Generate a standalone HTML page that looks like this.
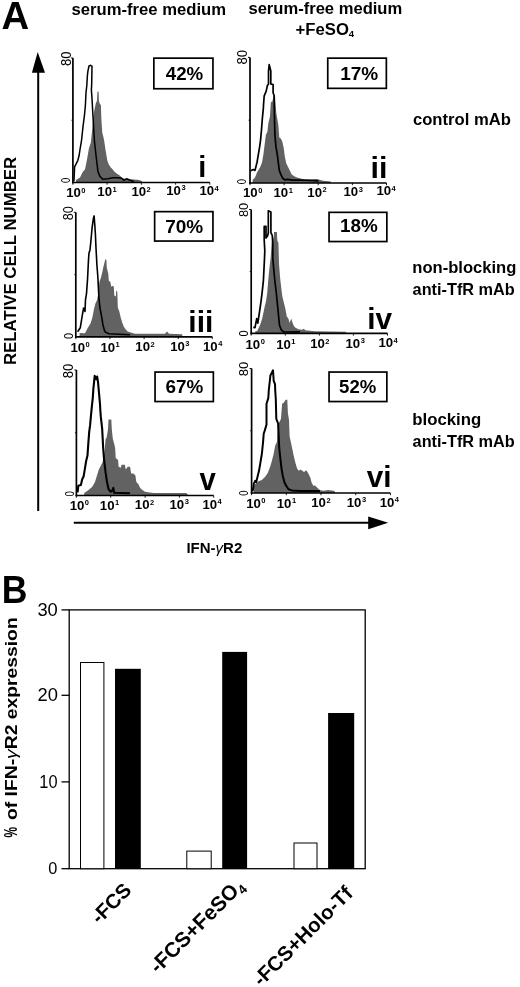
<!DOCTYPE html>
<html><head><meta charset="utf-8"><style>
html,body{margin:0;padding:0;background:#fff;}
svg{display:block;will-change:transform;filter:blur(0.4px);}
</style></head><body>
<svg width="520" height="987" viewBox="0 0 520 987">
<rect width="520" height="987" fill="#fff"/>
<g transform="translate(1.496,28.600) scale(1.0642,1.0521)"><text font-size="36" font-weight="bold" font-family='"Liberation Sans", sans-serif'>A</text></g>
<g transform="translate(71.519,14.653) scale(1.0419,0.9872)"><text font-size="16" font-weight="bold" font-family='"Liberation Sans", sans-serif'>serum-free medium</text></g>
<g transform="translate(248.423,14.351) scale(1.0365,0.9957)"><text font-size="16" font-weight="bold" font-family='"Liberation Sans", sans-serif'>serum-free medium</text></g>
<g transform="translate(295.516,34.757) scale(1.0452,0.9739)"><text font-size="16" font-weight="bold" font-family='"Liberation Sans", sans-serif'>+FeSO</text></g>
<g transform="translate(348.762,36.800) scale(0.9524,0.9714)"><text font-size="10" font-weight="bold" font-family='"Liberation Sans", sans-serif'>4</text></g>
<g transform="translate(412.920,125.249) scale(1.0404,1.0043)"><text font-size="16" font-weight="bold" font-family='"Liberation Sans", sans-serif'>control mAb</text></g>
<g transform="translate(412.263,272.929) scale(1.0372,1.0373)"><text font-size="16" font-weight="bold" font-family='"Liberation Sans", sans-serif'>non-blocking</text></g>
<g transform="translate(412.591,294.543) scale(1.0186,1.0298)"><text font-size="16" font-weight="bold" font-family='"Liberation Sans", sans-serif'>anti-TfR mAb</text></g>
<g transform="translate(412.251,425.263) scale(1.0494,1.0576)"><text font-size="16" font-weight="bold" font-family='"Liberation Sans", sans-serif'>blocking</text></g>
<g transform="translate(412.591,446.843) scale(1.0186,1.0298)"><text font-size="16" font-weight="bold" font-family='"Liberation Sans", sans-serif'>anti-TfR mAb</text></g>
<g transform="translate(186.398,553.100) scale(1.0018,1.0095)"><text font-size="15" font-weight="bold" font-family='"Liberation Sans", sans-serif'>IFN-<tspan font-style="italic" font-weight="normal">γ</tspan>R2</text></g>
<g transform="translate(15.645,365.024) rotate(-90) scale(1.0238,1.0213)"><text font-size="16.4" font-weight="bold" font-family='"Liberation Sans", sans-serif'>RELATIVE CELL NUMBER</text></g>
<line x1="38.2" y1="70" x2="38.2" y2="511" stroke="#000" stroke-width="2"/>
<polygon points="37.7,52 31.9,72.8 45,72.8" fill="#000"/>
<line x1="73.8" y1="522.8" x2="370" y2="522.8" stroke="#000" stroke-width="2"/>
<polygon points="368.2,516.6 388.2,522.8 368.2,529.2" fill="#000"/>
<polygon points="76.0,182.5 76.0,180.0 80.0,177.4 83.0,171.4 85.0,169.4 87.0,159.5 88.9,148.6 90.9,142.6 92.4,126.7 93.4,116.8 94.4,109.8 95.9,102.9 96.9,100.9 97.4,92.0 98.1,91.3 98.6,92.0 98.9,100.9 99.9,103.9 100.9,104.9 101.4,119.8 102.3,132.7 103.3,136.6 104.3,141.6 105.3,148.6 106.3,154.5 107.3,160.5 108.8,164.4 110.8,167.4 112.8,169.4 114.3,171.4 116.7,173.4 119.7,175.4 122.7,178.3 125.7,178.8 130.0,179.3 138.0,179.7 142.0,181.0 142.0,182.5" fill="#626262"/>
<polyline points="74.0,181.3 74.6,166.8 77.9,160.3 79.2,155.0 80.0,149.5 81.5,140.6 83.0,126.7 84.5,114.8 85.4,105.3 86.0,92.6 86.8,85.7 87.4,75.3 88.0,70.7 89.0,66.0 90.3,65.3 92.0,66.1 91.7,83.4 91.4,90.3 92.0,98.4 92.9,114.8 94.4,140.6 95.9,154.5 97.9,171.4 99.9,176.4 102.8,179.3 107.8,178.8 112.8,177.8 117.7,177.8 121.7,178.3 123.7,180.3 126.7,178.8 130.0,180.3 134.0,181.5" fill="none" stroke="#000" stroke-width="1.5" stroke-linejoin="round"/>
<line x1="72.9" y1="58.0" x2="72.9" y2="183.3" stroke="#000" stroke-width="1.7"/>
<line x1="72.10000000000001" y1="182.5" x2="209.8" y2="182.5" stroke="#000" stroke-width="1.7"/>
<line x1="70.9" y1="58.0" x2="72.9" y2="58.0" stroke="#000" stroke-width="1"/>
<line x1="71.4" y1="120.25" x2="72.9" y2="120.25" stroke="#000" stroke-width="0.8"/>
<line x1="72.9" y1="182.5" x2="72.9" y2="184.7" stroke="#000" stroke-width="0.9"/>
<line x1="107.1" y1="182.5" x2="107.1" y2="184.7" stroke="#000" stroke-width="0.9"/>
<line x1="141.4" y1="182.5" x2="141.4" y2="184.7" stroke="#000" stroke-width="0.9"/>
<line x1="175.6" y1="182.5" x2="175.6" y2="184.7" stroke="#000" stroke-width="0.9"/>
<line x1="209.8" y1="182.5" x2="209.8" y2="184.7" stroke="#000" stroke-width="0.9"/>
<g transform="translate(70.600,65.987) rotate(-90) scale(0.9745,1.0378)"><text font-size="13.4" font-family='"Liberation Sans", sans-serif'>80</text></g>
<g transform="translate(69.500,182.954) rotate(-90) scale(0.7077,0.9297)"><text font-size="13.4" font-family='"Liberation Sans", sans-serif'>0</text></g>
<rect x="153.85" y="58.15" width="59.10000000000001" height="30.599999999999998" fill="none" stroke="#000" stroke-width="1.7"/>
<g transform="translate(165.729,80.300) scale(1.0824,1.0833)"><text font-size="17.3" font-weight="bold" font-family='"Liberation Sans", sans-serif'>42%</text></g>
<g transform="translate(198.171,176.700) scale(0.9647,0.9839)"><text font-size="30" font-weight="bold" font-family='"Liberation Sans", sans-serif'>i</text></g>
<text x="66.14" y="197.25" font-size="13.2" font-weight="bold" font-family='"Liberation Sans", sans-serif'>10</text><text x="81.29" y="192.75" font-size="7.5" font-weight="bold" font-family='"Liberation Sans", sans-serif'>0</text>
<text x="97.34" y="196.35" font-size="13.2" font-weight="bold" font-family='"Liberation Sans", sans-serif'>10</text><text x="112.49" y="191.85" font-size="7.5" font-weight="bold" font-family='"Liberation Sans", sans-serif'>1</text>
<text x="131.44" y="196.05" font-size="13.2" font-weight="bold" font-family='"Liberation Sans", sans-serif'>10</text><text x="146.59" y="191.55" font-size="7.5" font-weight="bold" font-family='"Liberation Sans", sans-serif'>2</text>
<text x="166.24" y="194.95" font-size="13.2" font-weight="bold" font-family='"Liberation Sans", sans-serif'>10</text><text x="181.39" y="190.45" font-size="7.5" font-weight="bold" font-family='"Liberation Sans", sans-serif'>3</text>
<text x="199.44" y="195.25" font-size="13.2" font-weight="bold" font-family='"Liberation Sans", sans-serif'>10</text><text x="214.59" y="190.75" font-size="7.5" font-weight="bold" font-family='"Liberation Sans", sans-serif'>4</text>

<polygon points="252.6,183.0 252.6,180.0 255.0,177.4 257.0,172.4 260.0,167.4 262.0,162.5 263.4,154.5 264.4,146.6 265.9,134.7 267.4,131.7 268.4,122.7 269.9,116.8 270.9,101.9 272.4,101.4 273.4,95.9 274.9,95.9 275.4,102.9 276.4,113.8 277.3,118.8 278.3,124.7 279.3,137.6 280.8,138.6 282.3,141.6 283.8,148.6 284.8,156.5 286.3,163.5 287.8,166.4 289.8,170.4 291.7,174.4 294.7,176.4 297.7,177.8 301.7,178.8 305.0,179.3 310.8,179.2 316.9,178.9 323.1,180.8 330.8,181.5 330.8,183.0" fill="#626262"/>
<polyline points="250.7,170.8 253.3,169.5 255.0,170.4 257.0,162.5 259.5,147.6 260.5,140.6 261.5,129.7 262.4,117.8 263.4,107.8 263.5,105.0 264.2,95.8 266.2,91.2 267.3,85.8 268.5,84.0 268.5,71.0 269.2,64.6 270.8,71.0 270.8,84.0 273.1,84.6 273.1,92.7 274.2,95.8 274.4,114.8 274.9,134.7 275.9,146.6 277.3,154.5 278.3,162.5 279.3,170.4 280.8,174.4 282.8,178.3 284.8,179.8 287.8,179.3 292.0,180.2 300.0,180.0 310.0,180.5 318.5,180.8" fill="none" stroke="#000" stroke-width="1.7" stroke-linejoin="round"/>
<line x1="250.0" y1="57.4" x2="250.0" y2="183.8" stroke="#000" stroke-width="1.7"/>
<line x1="249.2" y1="183.0" x2="386.5" y2="183.0" stroke="#000" stroke-width="1.7"/>
<line x1="248.0" y1="57.4" x2="250.0" y2="57.4" stroke="#000" stroke-width="1"/>
<line x1="248.5" y1="120.2" x2="250.0" y2="120.2" stroke="#000" stroke-width="0.8"/>
<line x1="250.0" y1="183.0" x2="250.0" y2="185.2" stroke="#000" stroke-width="0.9"/>
<line x1="284.1" y1="183.0" x2="284.1" y2="185.2" stroke="#000" stroke-width="0.9"/>
<line x1="318.2" y1="183.0" x2="318.2" y2="185.2" stroke="#000" stroke-width="0.9"/>
<line x1="352.4" y1="183.0" x2="352.4" y2="185.2" stroke="#000" stroke-width="0.9"/>
<line x1="386.5" y1="183.0" x2="386.5" y2="185.2" stroke="#000" stroke-width="0.9"/>
<g transform="translate(246.800,64.491) rotate(-90) scale(0.9818,1.0378)"><text font-size="13.4" font-family='"Liberation Sans", sans-serif'>80</text></g>
<g transform="translate(245.800,184.154) rotate(-90) scale(0.7077,0.9514)"><text font-size="13.4" font-family='"Liberation Sans", sans-serif'>0</text></g>
<rect x="327.75" y="58.15" width="58.60000000000001" height="30.200000000000006" fill="none" stroke="#000" stroke-width="1.7"/>
<g transform="translate(340.151,80.300) scale(1.0992,1.1064)"><text font-size="17.3" font-weight="bold" font-family='"Liberation Sans", sans-serif'>17%</text></g>
<g transform="translate(370.468,178.000) scale(1.0160,0.9747)"><text font-size="30" font-weight="bold" font-family='"Liberation Sans", sans-serif'>ii</text></g>
<text x="243.04" y="197.25" font-size="13.2" font-weight="bold" font-family='"Liberation Sans", sans-serif'>10</text><text x="258.19" y="192.75" font-size="7.5" font-weight="bold" font-family='"Liberation Sans", sans-serif'>0</text>
<text x="273.54" y="197.25" font-size="13.2" font-weight="bold" font-family='"Liberation Sans", sans-serif'>10</text><text x="288.69" y="192.75" font-size="7.5" font-weight="bold" font-family='"Liberation Sans", sans-serif'>1</text>
<text x="307.34" y="196.65" font-size="13.2" font-weight="bold" font-family='"Liberation Sans", sans-serif'>10</text><text x="322.49" y="192.15" font-size="7.5" font-weight="bold" font-family='"Liberation Sans", sans-serif'>2</text>
<text x="343.54" y="196.05" font-size="13.2" font-weight="bold" font-family='"Liberation Sans", sans-serif'>10</text><text x="358.69" y="191.55" font-size="7.5" font-weight="bold" font-family='"Liberation Sans", sans-serif'>3</text>
<text x="376.44" y="195.45" font-size="13.2" font-weight="bold" font-family='"Liberation Sans", sans-serif'>10</text><text x="391.59" y="190.95" font-size="7.5" font-weight="bold" font-family='"Liberation Sans", sans-serif'>4</text>

<polygon points="79.6,336.9 79.6,333.0 85.0,333.3 88.0,327.4 90.5,323.4 92.4,317.5 93.9,309.5 95.4,303.6 96.9,300.6 98.4,293.6 99.4,281.7 100.9,277.7 102.4,271.8 103.4,266.8 104.9,260.9 105.4,258.9 106.4,259.9 106.8,267.8 108.3,273.8 108.8,280.7 110.3,281.7 111.3,286.7 112.8,285.7 113.8,286.7 114.3,295.6 115.8,296.6 116.3,290.6 117.3,291.6 117.8,307.5 119.3,311.5 120.7,317.5 122.2,322.4 123.7,326.4 125.7,329.4 127.7,331.4 130.7,332.4 135.0,333.8 140.0,333.7 165.0,333.8 167.0,331.5 169.0,333.8 182.3,334.2 182.3,336.9" fill="#626262"/>
<polyline points="77.6,331.7 80.3,327.7 82.2,315.9 83.6,308.0 85.0,311.5 85.5,299.6 86.5,293.6 87.5,279.7 88.5,259.9 89.0,252.9 90.0,249.9 91.0,240.0 92.1,227.7 93.4,218.5 94.1,215.9 94.7,223.8 95.4,234.3 95.9,246.0 96.9,264.8 97.9,277.7 98.9,297.6 99.9,307.5 101.4,315.5 102.9,324.4 104.4,330.4 105.9,332.4 108.8,333.8 130.0,334.8" fill="none" stroke="#000" stroke-width="1.6" stroke-linejoin="round"/>
<line x1="75.8" y1="212.3" x2="75.8" y2="337.7" stroke="#000" stroke-width="1.7"/>
<line x1="75.0" y1="336.9" x2="212.3" y2="336.9" stroke="#000" stroke-width="1.7"/>
<line x1="73.8" y1="212.3" x2="75.8" y2="212.3" stroke="#000" stroke-width="1"/>
<line x1="74.3" y1="274.6" x2="75.8" y2="274.6" stroke="#000" stroke-width="0.8"/>
<line x1="75.8" y1="336.9" x2="75.8" y2="339.09999999999997" stroke="#000" stroke-width="0.9"/>
<line x1="109.9" y1="336.9" x2="109.9" y2="339.09999999999997" stroke="#000" stroke-width="0.9"/>
<line x1="144.1" y1="336.9" x2="144.1" y2="339.09999999999997" stroke="#000" stroke-width="0.9"/>
<line x1="178.2" y1="336.9" x2="178.2" y2="339.09999999999997" stroke="#000" stroke-width="0.9"/>
<line x1="212.3" y1="336.9" x2="212.3" y2="339.09999999999997" stroke="#000" stroke-width="0.9"/>
<g transform="translate(73.400,220.173) rotate(-90) scale(0.9455,1.0378)"><text font-size="13.4" font-family='"Liberation Sans", sans-serif'>80</text></g>
<g transform="translate(73.000,338.908) rotate(-90) scale(0.8154,0.9622)"><text font-size="13.4" font-family='"Liberation Sans", sans-serif'>0</text></g>
<rect x="154.65" y="211.65" width="58.3" height="29.399999999999995" fill="none" stroke="#000" stroke-width="1.7"/>
<g transform="translate(165.176,232.941) scale(1.0985,1.0367)"><text font-size="17.3" font-weight="bold" font-family='"Liberation Sans", sans-serif'>70%</text></g>
<g transform="translate(188.300,331.800) scale(1.0000,0.9977)"><text font-size="30" font-weight="bold" font-family='"Liberation Sans", sans-serif'>iii</text></g>
<text x="70.44" y="351.85" font-size="13.2" font-weight="bold" font-family='"Liberation Sans", sans-serif'>10</text><text x="85.59" y="347.35" font-size="7.5" font-weight="bold" font-family='"Liberation Sans", sans-serif'>0</text>
<text x="100.44" y="351.85" font-size="13.2" font-weight="bold" font-family='"Liberation Sans", sans-serif'>10</text><text x="115.59" y="347.35" font-size="7.5" font-weight="bold" font-family='"Liberation Sans", sans-serif'>1</text>
<text x="135.34" y="351.25" font-size="13.2" font-weight="bold" font-family='"Liberation Sans", sans-serif'>10</text><text x="150.49" y="346.75" font-size="7.5" font-weight="bold" font-family='"Liberation Sans", sans-serif'>2</text>
<text x="170.14" y="350.65" font-size="13.2" font-weight="bold" font-family='"Liberation Sans", sans-serif'>10</text><text x="185.29" y="346.15" font-size="7.5" font-weight="bold" font-family='"Liberation Sans", sans-serif'>3</text>
<text x="203.04" y="350.65" font-size="13.2" font-weight="bold" font-family='"Liberation Sans", sans-serif'>10</text><text x="218.19" y="346.15" font-size="7.5" font-weight="bold" font-family='"Liberation Sans", sans-serif'>4</text>

<polygon points="255.3,333.4 255.3,331.3 257.2,330.9 260.0,325.3 262.2,318.6 264.5,307.5 266.1,300.8 267.3,291.9 268.4,278.5 269.5,267.4 270.6,258.4 271.7,242.8 272.8,240.6 274.0,236.1 274.0,232.1 276.9,232.1 277.3,240.6 278.4,242.8 279.0,264.0 280.1,277.4 281.2,287.4 282.3,296.3 283.4,300.8 285.1,307.5 286.8,316.4 288.4,318.6 289.6,323.1 291.2,318.6 292.3,322.0 293.5,325.3 295.1,327.6 298.5,329.2 301.8,329.8 304.1,328.7 305.0,330.3 315.0,331.3 330.0,331.5 346.0,331.8 346.0,333.4" fill="#626262"/>
<polyline points="253.3,327.4 255.0,327.6 256.7,318.6 257.8,323.1 259.5,312.0 261.1,300.8 262.2,291.9 263.4,280.7 264.5,258.4 264.8,250.6 264.2,240.0 264.2,226.4 266.0,226.4 266.0,237.9 267.5,236.0 268.3,233.0 268.3,210.8 270.9,212.0 270.9,232.7 272.3,235.6 272.8,245.0 272.8,258.4 274.0,271.8 275.1,283.0 276.2,291.9 277.3,303.0 278.4,314.2 279.5,325.3 281.2,329.8 284.0,332.0 300.0,331.8" fill="none" stroke="#000" stroke-width="1.7" stroke-linejoin="round"/>
<line x1="251.2" y1="209.5" x2="251.2" y2="334.2" stroke="#000" stroke-width="1.7"/>
<line x1="250.39999999999998" y1="333.4" x2="387.5" y2="333.4" stroke="#000" stroke-width="1.7"/>
<line x1="249.2" y1="209.5" x2="251.2" y2="209.5" stroke="#000" stroke-width="1"/>
<line x1="249.7" y1="271.45" x2="251.2" y2="271.45" stroke="#000" stroke-width="0.8"/>
<line x1="251.2" y1="333.4" x2="251.2" y2="335.59999999999997" stroke="#000" stroke-width="0.9"/>
<line x1="285.3" y1="333.4" x2="285.3" y2="335.59999999999997" stroke="#000" stroke-width="0.9"/>
<line x1="319.4" y1="333.4" x2="319.4" y2="335.59999999999997" stroke="#000" stroke-width="0.9"/>
<line x1="353.4" y1="333.4" x2="353.4" y2="335.59999999999997" stroke="#000" stroke-width="0.9"/>
<line x1="387.5" y1="333.4" x2="387.5" y2="335.59999999999997" stroke="#000" stroke-width="0.9"/>
<g transform="translate(248.100,217.080) rotate(-90) scale(0.9600,1.0162)"><text font-size="13.4" font-family='"Liberation Sans", sans-serif'>80</text></g>
<g transform="translate(247.700,336.508) rotate(-90) scale(0.8154,1.0054)"><text font-size="13.4" font-family='"Liberation Sans", sans-serif'>0</text></g>
<rect x="329.05" y="212.35" width="57.8" height="29.200000000000006" fill="none" stroke="#000" stroke-width="1.7"/>
<g transform="translate(339.908,232.486) scale(1.0917,1.0571)"><text font-size="17.3" font-weight="bold" font-family='"Liberation Sans", sans-serif'>18%</text></g>
<g transform="translate(367.213,329.000) scale(0.9934,0.9839)"><text font-size="30" font-weight="bold" font-family='"Liberation Sans", sans-serif'>iv</text></g>
<text x="245.54" y="348.85" font-size="13.2" font-weight="bold" font-family='"Liberation Sans", sans-serif'>10</text><text x="260.69" y="344.35" font-size="7.5" font-weight="bold" font-family='"Liberation Sans", sans-serif'>0</text>
<text x="276.14" y="348.85" font-size="13.2" font-weight="bold" font-family='"Liberation Sans", sans-serif'>10</text><text x="291.29" y="344.35" font-size="7.5" font-weight="bold" font-family='"Liberation Sans", sans-serif'>1</text>
<text x="310.14" y="348.25" font-size="13.2" font-weight="bold" font-family='"Liberation Sans", sans-serif'>10</text><text x="325.29" y="343.75" font-size="7.5" font-weight="bold" font-family='"Liberation Sans", sans-serif'>2</text>
<text x="345.54" y="347.65" font-size="13.2" font-weight="bold" font-family='"Liberation Sans", sans-serif'>10</text><text x="360.69" y="343.15" font-size="7.5" font-weight="bold" font-family='"Liberation Sans", sans-serif'>3</text>
<text x="378.44" y="347.05" font-size="13.2" font-weight="bold" font-family='"Liberation Sans", sans-serif'>10</text><text x="393.59" y="342.55" font-size="7.5" font-weight="bold" font-family='"Liberation Sans", sans-serif'>4</text>

<polygon points="84.2,495.5 84.2,493.0 88.2,490.3 92.1,487.1 95.0,482.1 98.8,469.6 100.8,465.8 102.7,461.9 104.5,452.0 105.6,438.8 106.5,437.9 108.0,429.2 108.5,419.6 111.3,419.6 111.8,429.2 112.8,438.8 114.2,443.7 115.2,448.5 115.7,458.1 118.1,460.0 118.6,466.7 121.0,467.7 121.4,464.8 124.8,464.8 125.8,469.6 127.7,466.7 130.1,466.7 131.1,473.5 133.5,473.5 135.4,475.4 136.3,482.1 138.3,484.0 140.2,487.9 142.1,489.8 145.0,491.7 147.7,492.3 153.8,493.0 186.2,493.0 187.7,494.3 187.7,495.5" fill="#626262"/>
<polyline points="77.6,492.3 78.3,485.7 80.9,485.1 82.2,479.2 83.6,476.5 84.9,468.6 86.2,460.7 87.5,455.5 88.2,445.0 89.2,431.8 90.1,425.2 90.8,417.3 91.8,406.8 92.8,397.6 93.4,388.4 94.1,381.8 94.7,375.9 96.1,379.2 97.1,376.5 98.0,381.8 98.7,389.7 100.0,404.2 100.3,410.0 100.8,416.7 102.2,429.2 103.2,448.5 104.1,460.0 105.6,472.5 107.0,482.1 108.5,488.8 110.4,491.7 112.3,490.8 113.3,487.9 114.2,492.7 130.0,493.2" fill="none" stroke="#000" stroke-width="2.1" stroke-linejoin="round"/>
<line x1="76.4" y1="370.0" x2="76.4" y2="496.3" stroke="#000" stroke-width="1.7"/>
<line x1="75.60000000000001" y1="495.5" x2="213.7" y2="495.5" stroke="#000" stroke-width="1.7"/>
<line x1="74.4" y1="370.0" x2="76.4" y2="370.0" stroke="#000" stroke-width="1"/>
<line x1="74.9" y1="432.75" x2="76.4" y2="432.75" stroke="#000" stroke-width="0.8"/>
<line x1="76.4" y1="495.5" x2="76.4" y2="497.7" stroke="#000" stroke-width="0.9"/>
<line x1="110.7" y1="495.5" x2="110.7" y2="497.7" stroke="#000" stroke-width="0.9"/>
<line x1="145.1" y1="495.5" x2="145.1" y2="497.7" stroke="#000" stroke-width="0.9"/>
<line x1="179.4" y1="495.5" x2="179.4" y2="497.7" stroke="#000" stroke-width="0.9"/>
<line x1="213.7" y1="495.5" x2="213.7" y2="497.7" stroke="#000" stroke-width="0.9"/>
<g transform="translate(72.900,378.189) rotate(-90) scale(0.9782,1.0378)"><text font-size="13.4" font-family='"Liberation Sans", sans-serif'>80</text></g>
<g transform="translate(74.000,496.562) rotate(-90) scale(0.7231,0.9730)"><text font-size="13.4" font-family='"Liberation Sans", sans-serif'>0</text></g>
<rect x="155.04999999999998" y="372.05" width="58.3" height="29.49999999999999" fill="none" stroke="#000" stroke-width="1.7"/>
<g transform="translate(165.432,393.426) scale(1.0910,1.0980)"><text font-size="17.3" font-weight="bold" font-family='"Liberation Sans", sans-serif'>67%</text></g>
<g transform="translate(199.555,489.900) scale(0.9785,1.0159)"><text font-size="30" font-weight="bold" font-family='"Liberation Sans", sans-serif'>v</text></g>
<text x="69.64" y="509.85" font-size="13.2" font-weight="bold" font-family='"Liberation Sans", sans-serif'>10</text><text x="84.79" y="505.35" font-size="7.5" font-weight="bold" font-family='"Liberation Sans", sans-serif'>0</text>
<text x="99.84" y="509.85" font-size="13.2" font-weight="bold" font-family='"Liberation Sans", sans-serif'>10</text><text x="114.99" y="505.35" font-size="7.5" font-weight="bold" font-family='"Liberation Sans", sans-serif'>1</text>
<text x="134.84" y="509.25" font-size="13.2" font-weight="bold" font-family='"Liberation Sans", sans-serif'>10</text><text x="149.99" y="504.75" font-size="7.5" font-weight="bold" font-family='"Liberation Sans", sans-serif'>2</text>
<text x="169.54" y="508.65" font-size="13.2" font-weight="bold" font-family='"Liberation Sans", sans-serif'>10</text><text x="184.69" y="504.15" font-size="7.5" font-weight="bold" font-family='"Liberation Sans", sans-serif'>3</text>
<text x="202.44" y="508.65" font-size="13.2" font-weight="bold" font-family='"Liberation Sans", sans-serif'>10</text><text x="217.59" y="504.15" font-size="7.5" font-weight="bold" font-family='"Liberation Sans", sans-serif'>4</text>

<polygon points="253.9,493.0 253.9,486.0 255.0,484.6 258.5,481.2 261.9,480.0 265.4,476.5 267.7,473.1 270.0,467.3 271.7,461.5 273.5,454.6 275.2,445.4 276.9,441.9 278.1,424.6 279.8,421.2 281.0,418.8 282.1,403.8 283.8,402.7 285.6,399.8 287.3,399.8 287.9,413.1 289.0,420.0 289.6,436.2 291.3,444.2 292.5,450.0 293.7,455.8 295.4,462.7 297.1,468.5 298.8,470.8 300.6,469.6 302.3,470.8 304.0,471.9 306.3,470.2 308.1,473.1 310.4,477.7 311.5,482.3 313.3,485.8 315.0,485.4 317.3,487.7 319.6,490.0 323.5,490.8 328.1,490.0 333.5,490.8 335.0,491.5 335.0,493.0" fill="#626262"/>
<polyline points="252.6,491.3 253.9,483.4 255.3,480.8 256.2,482.3 257.3,477.7 259.0,470.8 260.2,463.8 261.9,453.5 263.1,441.9 263.7,433.8 264.8,430.4 266.5,424.6 266.5,403.8 268.3,398.1 268.8,390.0 269.7,382.1 270.4,375.5 271.7,372.9 273.0,370.3 273.7,380.8 275.0,384.1 275.2,390.0 275.8,399.2 276.3,418.8 278.1,423.5 278.7,436.2 279.2,447.7 280.4,459.2 281.5,468.5 282.7,475.4 284.4,482.3 286.2,485.8 288.5,489.2 291.9,490.4 300.0,491.0 320.0,491.0" fill="none" stroke="#000" stroke-width="2.0" stroke-linejoin="round"/>
<line x1="251.6" y1="368.5" x2="251.6" y2="493.8" stroke="#000" stroke-width="1.7"/>
<line x1="250.79999999999998" y1="493.0" x2="390.4" y2="493.0" stroke="#000" stroke-width="1.7"/>
<line x1="249.6" y1="368.5" x2="251.6" y2="368.5" stroke="#000" stroke-width="1"/>
<line x1="250.1" y1="430.75" x2="251.6" y2="430.75" stroke="#000" stroke-width="0.8"/>
<line x1="251.6" y1="493.0" x2="251.6" y2="495.2" stroke="#000" stroke-width="0.9"/>
<line x1="286.3" y1="493.0" x2="286.3" y2="495.2" stroke="#000" stroke-width="0.9"/>
<line x1="321.0" y1="493.0" x2="321.0" y2="495.2" stroke="#000" stroke-width="0.9"/>
<line x1="355.7" y1="493.0" x2="355.7" y2="495.2" stroke="#000" stroke-width="0.9"/>
<line x1="390.4" y1="493.0" x2="390.4" y2="495.2" stroke="#000" stroke-width="0.9"/>
<g transform="translate(248.100,376.239) rotate(-90) scale(0.9782,1.0162)"><text font-size="13.4" font-family='"Liberation Sans", sans-serif'>80</text></g>
<g transform="translate(248.000,495.754) rotate(-90) scale(0.7077,0.9946)"><text font-size="13.4" font-family='"Liberation Sans", sans-serif'>0</text></g>
<rect x="329.05" y="372.05" width="57.8" height="29.49999999999999" fill="none" stroke="#000" stroke-width="1.7"/>
<g transform="translate(339.062,392.936) scale(1.0756,1.0571)"><text font-size="17.3" font-weight="bold" font-family='"Liberation Sans", sans-serif'>52%</text></g>
<g transform="translate(366.653,487.100) scale(0.9890,0.9655)"><text font-size="30" font-weight="bold" font-family='"Liberation Sans", sans-serif'>vi</text></g>
<text x="246.14" y="507.85" font-size="13.2" font-weight="bold" font-family='"Liberation Sans", sans-serif'>10</text><text x="261.29" y="503.35" font-size="7.5" font-weight="bold" font-family='"Liberation Sans", sans-serif'>0</text>
<text x="276.74" y="507.85" font-size="13.2" font-weight="bold" font-family='"Liberation Sans", sans-serif'>10</text><text x="291.89" y="503.35" font-size="7.5" font-weight="bold" font-family='"Liberation Sans", sans-serif'>1</text>
<text x="311.24" y="507.25" font-size="13.2" font-weight="bold" font-family='"Liberation Sans", sans-serif'>10</text><text x="326.39" y="502.75" font-size="7.5" font-weight="bold" font-family='"Liberation Sans", sans-serif'>2</text>
<text x="346.74" y="506.65" font-size="13.2" font-weight="bold" font-family='"Liberation Sans", sans-serif'>10</text><text x="361.89" y="502.15" font-size="7.5" font-weight="bold" font-family='"Liberation Sans", sans-serif'>3</text>
<text x="379.64" y="506.65" font-size="13.2" font-weight="bold" font-family='"Liberation Sans", sans-serif'>10</text><text x="394.79" y="502.15" font-size="7.5" font-weight="bold" font-family='"Liberation Sans", sans-serif'>4</text>

<g transform="translate(1.752,602.800) scale(1.0167,1.1000)"><text font-size="35" font-weight="bold" font-family='"Liberation Sans", sans-serif'>B</text></g>
<rect x="69.2" y="609.9" width="296" height="258.8" fill="none" stroke="#000" stroke-width="1.3"/>
<line x1="61.5" y1="609.9" x2="69.2" y2="609.9" stroke="#000" stroke-width="1.3"/>
<line x1="61.5" y1="695.3" x2="69.2" y2="695.3" stroke="#000" stroke-width="1.3"/>
<line x1="61.5" y1="781.9" x2="69.2" y2="781.9" stroke="#000" stroke-width="1.3"/>
<line x1="61.5" y1="868.7" x2="69.2" y2="868.7" stroke="#000" stroke-width="1.3"/>
<g transform="translate(37.413,615.846) scale(1.0500,1.0160)"><text font-size="17.5" font-family='"Liberation Sans", sans-serif'>30</text></g>
<g transform="translate(37.452,701.238) scale(1.0479,1.0480)"><text font-size="17.5" font-family='"Liberation Sans", sans-serif'>20</text></g>
<g transform="translate(39.329,788.238) scale(0.9371,1.0480)"><text font-size="17.5" font-family='"Liberation Sans", sans-serif'>10</text></g>
<g transform="translate(48.300,874.254) scale(0.9333,0.9840)"><text font-size="17.5" font-family='"Liberation Sans", sans-serif'>0</text></g>
<rect x="80.5" y="662.5" width="23.400000000000006" height="206.20000000000005" fill="#fff" stroke="#000" stroke-width="1"/>
<rect x="115" y="668.8" width="25.80000000000001" height="199.9000000000001" fill="#000"/>
<rect x="186.8" y="851.1" width="24.399999999999977" height="17.600000000000023" fill="#fff" stroke="#000" stroke-width="1"/>
<rect x="222.2" y="651.9" width="24.900000000000006" height="216.80000000000007" fill="#000"/>
<rect x="294.0" y="843.0" width="23.0" height="25.700000000000045" fill="#fff" stroke="#000" stroke-width="1"/>
<rect x="328.1" y="713" width="26.099999999999966" height="155.70000000000005" fill="#000"/>
<g transform="translate(16.745,820.052) rotate(-90) scale(1.1361,1.0200)"><text font-size="17" font-weight="bold" font-family='"Liberation Sans", sans-serif'>of IFN-<tspan font-style="italic" font-weight="normal">γ</tspan>R2 expression</text></g>
<g transform="translate(16.800,837.451) rotate(-90) scale(0.7018,1.0383)"><text font-size="17" font-weight="bold" font-family='"Liberation Sans", sans-serif'>%</text></g>
<g transform="translate(99.14,924.95) scale(1.0172) rotate(-45)"><text font-size="20" font-weight="bold" font-family='"Liberation Sans", sans-serif'>-FCS</text></g>
<g transform="translate(158.02,974.33) scale(1.0501) rotate(-45)"><text font-size="20" font-weight="bold" font-family='"Liberation Sans", sans-serif'>-FCS+FeSO<tspan font-size="12.5" dy="4">4</tspan></text></g>
<g transform="translate(261.23,987.33) scale(1.0222) rotate(-45)"><text font-size="20" font-weight="bold" font-family='"Liberation Sans", sans-serif'>-FCS+Holo-Tf</text></g>
</svg>
</body></html>
